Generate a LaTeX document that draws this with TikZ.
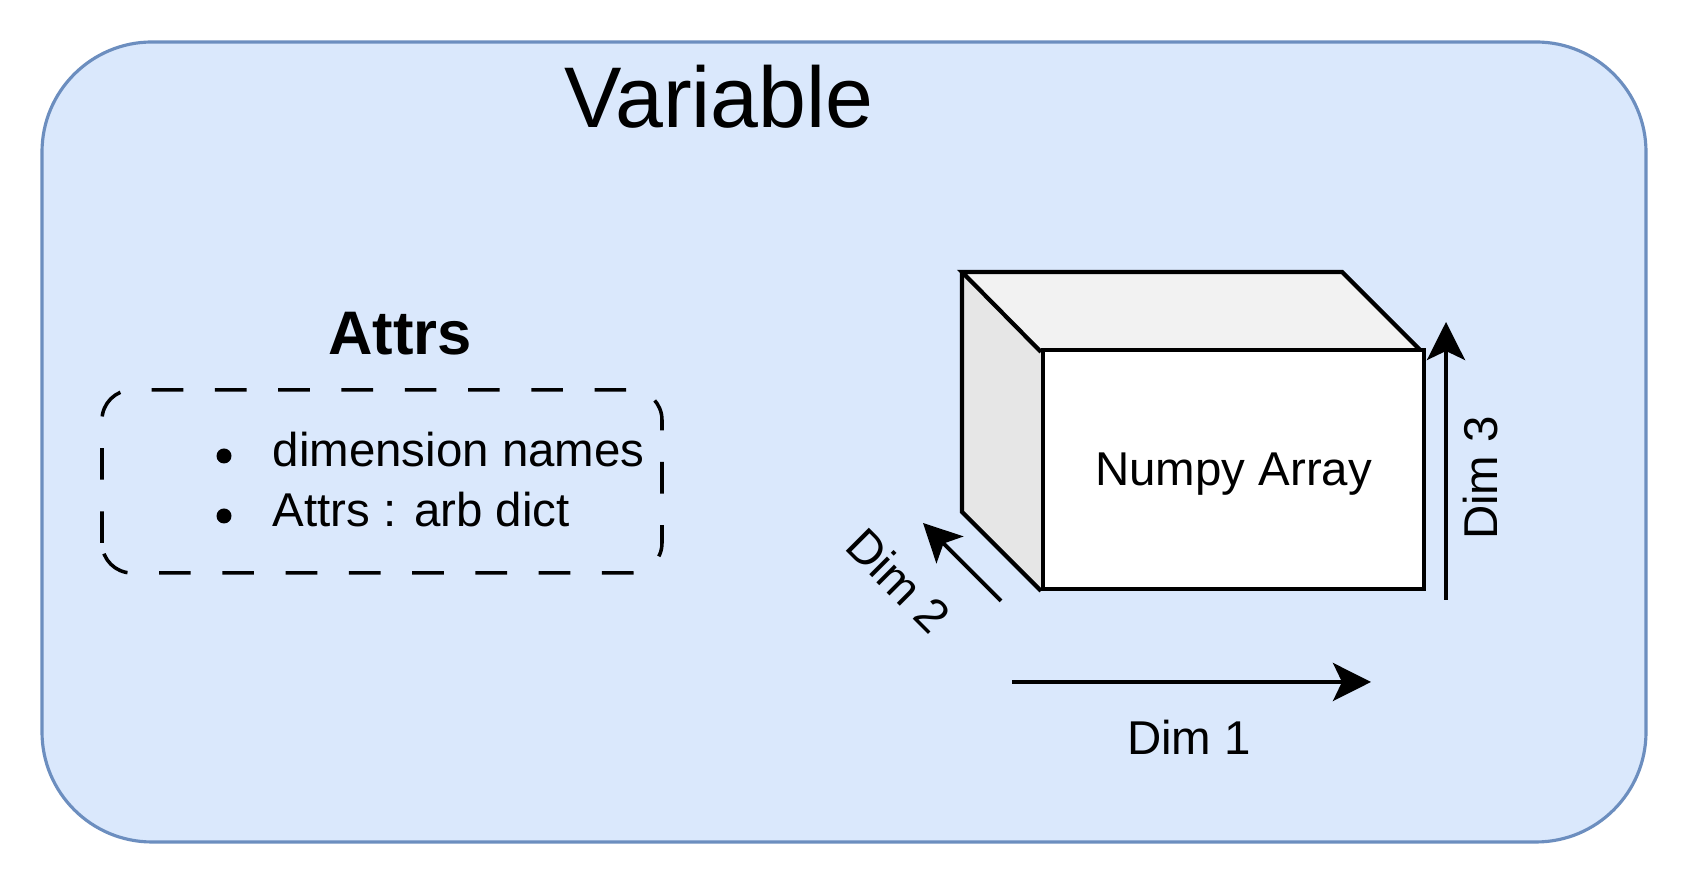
\documentclass[tikz,border=0pt]{standalone}
\usepackage{fontspec}
\setmainfont{Liberation Sans}
\usetikzlibrary{arrows.meta}
\definecolor{varfill}{HTML}{DAE8FC}
\definecolor{varline}{HTML}{6C8EBF}
\definecolor{topface}{HTML}{F2F2F2}
\definecolor{sideface}{HTML}{E6E6E6}
\tikzset{
  dimarrow/.style={line width=1.1pt, -{Stealth[length=3.8mm, width=3.8mm, inset=0.9mm]}},
  dimlabel/.style={font=\fontsize{13.5}{16}\selectfont},
  cubeline/.style={line width=1.2pt, line join=miter}
}

\begin{document}
\begin{tikzpicture}
			%%%%% START %%%%%
			\useasboundingbox (0,0) rectangle (16.88,8.84);
			
			\draw[line width=0.9pt, draw=varline, fill=varfill, rounded corners=1.1cm] (0.42,0.42) rectangle (16.46,8.42);
			\node[anchor=base, font=\fontsize{24.5}{28}\selectfont] (variable) at (7.19,7.56) {Variable};
			
			% attrs box
			\node[anchor=base, font=\bfseries\fontsize{17.5}{20}\selectfont] (attrs) at (4.00,5.29) {Attrs};
			\draw[line width=1pt, dash pattern=on 9pt off 9pt, rounded corners=0.3cm] (1.02,3.11) rectangle (6.62,4.94);
			
			\fill (2.24,4.28) circle (0.075);
			\node[anchor=base west, inner sep=0pt, dimlabel] (dimnames) at (2.72,4.17) {dimension names};
			\fill (2.24,3.68) circle (0.075);
			\node[anchor=base west, inner sep=0pt, dimlabel] (attrdict) at (2.72,3.57) {Attrs : arb dict};
			
			% cube
			\coordinate (btl) at (9.62,6.12);
			\coordinate (btr) at (13.42,6.12);
			\coordinate (ftl) at (10.41,5.32);
			\coordinate (ftr) at (14.22,5.32);
			\coordinate (fbl) at (10.41,2.93);
			\coordinate (bbl) at (9.62,3.72);
			
			\fill[topface] (btl) -- (btr) -- (ftr) -- (ftl) -- cycle;
			\fill[sideface] (btl) -- (ftl) -- (fbl) -- (bbl) -- cycle;
			\draw[cubeline] (ftl) -- (btl) -- (btr) -- (ftr);
			\draw[cubeline] (btl) -- (bbl) -- (fbl);
			\node[draw, cubeline, fill=white, anchor=south west, inner sep=0pt, minimum width=3.81cm, minimum height=2.39cm, text depth=0pt, dimlabel] (front) at (fbl) {Numpy Array};
			
			% dims
			\coordinate (dimonestart) at (10.12,2.02);
			\coordinate (dimoneend) at (13.71,2.02);
			\draw[dimarrow] (dimonestart) -- (dimoneend);
			\node[anchor=base, dimlabel] (dimone) at (11.89,1.29) {Dim 1};
			
			\coordinate (dimtwostart) at (10.01,2.83);
			\coordinate (dimtwoend) at (9.23,3.61);
			\draw[dimarrow] (dimtwostart) -- (dimtwoend);
			\node[rotate=-45, dimlabel] (dimtwo) at (8.99,3.04) {Dim 2};
			
			\coordinate (dimthreestart) at (14.46,2.84);
			\coordinate (dimthreeend) at (14.46,5.62);
			\draw[dimarrow] (dimthreestart) -- (dimthreeend);
			\node[rotate=90, dimlabel] (dimthree) at (14.81,4.06) {Dim 3};
			
			%%%%% END %%%%%
\end{tikzpicture}
\end{document}
